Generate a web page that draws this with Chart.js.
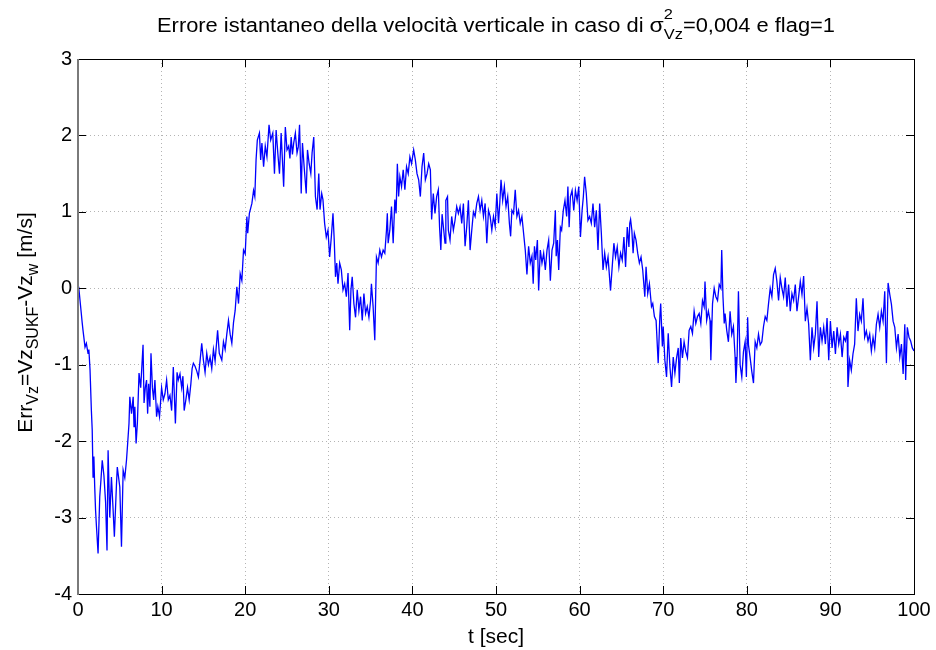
<!DOCTYPE html>
<html>
<head>
<meta charset="utf-8">
<title>Errore istantaneo Vz</title>
<script src="https://cdn.jsdelivr.net/npm/chart.js@4.4.0/dist/chart.umd.min.js"></script>
<style>
  html, body { margin: 0; padding: 0; background: #fff; }
  #wrap { width: 936px; height: 650px; }
</style>
</head>
<body>
<div id="wrap"><canvas id="chart" width="936" height="650"></canvas></div>
<script>
// ── Data ───────────────────────────────────────────────────
// time [s]
const tSec = [
  0, 0.1, 0.36, 0.5, 0.6, 0.84, 1.0, 1.2, 1.3, 1.44,
  1.6, 1.7, 1.8, 1.9, 2.0, 2.1, 2.2, 2.4, 2.6, 2.75,
  2.9, 3.1, 3.3, 3.47, 3.6, 3.8, 4.0, 4.2, 4.35, 4.6,
  4.7, 5.0, 5.2, 5.4, 5.6, 5.8, 5.94, 6.1, 6.2, 6.4,
  6.6, 6.7, 6.8, 6.95, 7.1, 7.3, 7.5, 7.78, 7.9, 8.05,
  8.2, 8.33, 8.45, 8.6, 8.73, 8.9, 9.05, 9.2, 9.4, 9.55,
  9.75, 10.0, 10.2, 10.4, 10.6, 10.8, 11.0, 11.2, 11.4, 11.65,
  11.85, 12.0, 12.2, 12.4, 12.55, 12.7, 12.9, 13.1, 13.3, 13.5,
  13.65, 13.8, 14.0, 14.2, 14.4,
  // 14.6 .. 28.8
  14.6, 14.8, 15.0, 15.2, 15.4, 15.6, 15.8, 16.0, 16.2, 16.4,
  16.7, 16.9, 17.2, 17.4, 17.6, 17.8, 18.0, 18.2, 18.4, 18.6,
  18.8, 19.0, 19.2, 19.4, 19.6, 19.8, 20.0, 20.2, 20.3, 20.5,
  20.8, 21.0, 21.15, 21.3, 21.45, 21.7, 21.85, 22.0, 22.2, 22.4,
  22.6, 22.85, 23.05, 23.3, 23.5, 23.7, 23.9, 24.1, 24.3, 24.45,
  24.6, 24.8, 25.0, 25.2, 25.35, 25.5, 25.65, 25.8, 26.0, 26.2,
  26.35, 26.5, 26.7, 26.85, 27.05, 27.3, 27.45, 27.65, 27.85, 28.0,
  28.2, 28.4, 28.6, 28.8,
  // 28.95 .. 42.5
  28.95, 29.15, 29.3, 29.5, 29.7, 29.9, 30.1, 30.3, 30.5, 30.65,
  30.8, 30.95, 31.1, 31.3, 31.5, 31.7, 31.9, 32.1, 32.3, 32.5,
  32.65, 32.8, 33.0, 33.2, 33.4, 33.6, 33.8, 34.0, 34.2, 34.4,
  34.6, 34.8, 35.0, 35.1, 35.3, 35.5, 35.7, 35.9, 36.1, 36.3,
  36.5, 36.7, 36.9, 37.0, 37.1, 37.3, 37.5, 37.7, 37.9, 38.05,
  38.2, 38.35, 38.5, 38.7, 38.9, 39.1, 39.3, 39.5, 39.7, 39.9,
  40.15, 40.35, 40.55, 40.75, 40.95, 41.15, 41.35, 41.55, 41.75, 41.95,
  42.15, 42.3, 42.5,
  // 42.7 .. 57.2
  42.7, 42.9, 43.1, 43.25, 43.4, 43.55, 43.75, 43.9, 44.0, 44.2,
  44.3, 44.5, 44.7, 44.9, 45.1, 45.3, 45.5, 45.7, 45.9, 46.1,
  46.3, 46.5, 46.7, 46.9, 47.1, 47.3, 47.5, 47.7, 47.9, 48.1,
  48.3, 48.5, 48.7, 48.9, 49.1, 49.3, 49.5, 49.7, 49.9, 50.1,
  50.3, 50.45, 50.6, 50.8, 51.0, 51.2, 51.4, 51.6, 51.75, 51.9,
  52.1, 52.3, 52.5, 52.7, 52.9, 53.1, 53.3, 53.5, 53.7, 53.9,
  54.1, 54.3, 54.45, 54.6, 54.75, 54.95, 55.1, 55.3, 55.5, 55.7,
  55.9, 56.1, 56.3, 56.5, 56.7, 56.9, 57.1, 57.2,
  // 57.35 .. 71.4
  57.35, 57.5, 57.7, 57.85, 58.05, 58.25, 58.45, 58.6, 58.75, 58.9,
  59.1, 59.3, 59.5, 59.7, 59.9, 60.1, 60.3, 60.45, 60.6, 60.8,
  61.0, 61.2, 61.4, 61.6, 61.8, 62.0, 62.2, 62.4, 62.6, 62.8,
  63.0, 63.2, 63.4, 63.7, 63.9, 64.1, 64.3, 64.5, 64.7, 64.9,
  65.1, 65.3, 65.5, 65.7, 65.9, 66.0, 66.1, 66.25, 66.4, 66.55,
  66.75, 66.95, 67.15, 67.35, 67.55, 67.8, 67.95, 68.15, 68.35, 68.6,
  68.75, 68.95, 69.15, 69.4, 69.6, 69.7, 69.9, 70.0, 70.2, 70.4,
  70.6, 70.8, 71.0, 71.2, 71.4,
  // 71.6 .. 86.2
  71.6, 71.8, 71.93, 72.1, 72.3, 72.5, 72.7, 72.9, 73.1, 73.3,
  73.5, 73.7, 73.9, 74.1, 74.3, 74.5, 74.7, 74.9, 75.0, 75.2,
  75.4, 75.6, 75.7, 75.9, 76.1, 76.3, 76.5, 76.7, 76.9, 77.0,
  77.15, 77.3, 77.4, 77.6, 77.8, 78.0, 78.2, 78.4, 78.6, 78.7,
  78.85, 79.0, 79.2, 79.4, 79.6, 79.8, 79.95, 80.1, 80.2, 80.4,
  80.6, 80.8, 81.0, 81.2, 81.4, 81.6, 81.8, 82.0, 82.2, 82.4,
  82.6, 82.8, 83.0, 83.2, 83.4, 83.6, 83.8, 84.0, 84.2, 84.4,
  84.6, 84.8, 85.0, 85.2, 85.4, 85.6, 85.8, 86.0, 86.2,
  // 86.4 .. 100
  86.4, 86.6, 86.8, 87.0, 87.2, 87.4, 87.6, 87.8, 88.0, 88.2,
  88.4, 88.6, 88.8, 89.0, 89.2, 89.4, 89.6, 89.8, 90.0, 90.2,
  90.4, 90.6, 90.8, 91.0, 91.2, 91.4, 91.6, 91.8, 92.0, 92.1,
  92.3, 92.5, 92.7, 92.9, 93.1, 93.3, 93.5, 93.7, 93.9, 94.1,
  94.3, 94.5, 94.7, 94.9, 95.1, 95.3, 95.5, 95.7, 95.9, 96.1,
  96.3, 96.5, 96.7, 96.9, 97.1, 97.3, 97.5, 97.7, 97.9, 98.1,
  98.3, 98.5, 98.7, 98.9, 99.0, 99.2, 99.4, 99.6, 99.8, 100,
];

// Err_Vz = Vz_SUKF - Vz_w [m/s]
const errVz = [
  0.02, 0.0, -0.29, -0.45, -0.55, -0.77, -0.72, -0.85, -0.8, -1.07,
  -1.6, -1.85, -2.47, -2.2, -2.6, -2.9, -3.1, -3.47, -2.73, -2.5,
  -2.25, -2.45, -2.8, -3.43, -2.12, -3.0, -2.47, -2.9, -3.25, -2.57,
  -2.34, -2.6, -3.38, -2.38, -2.48, -2.25, -2.03, -1.77, -1.42, -1.64,
  -1.42, -1.81, -1.55, -2.03, -1.77, -1.11, -1.3, -0.74, -1.5, -1.3,
  -1.2, -1.64, -1.25, -1.55, -0.85, -1.3, -1.46, -1.2, -1.68, -1.55,
  -1.68, -1.3, -1.46, -1.38, -1.2, -1.46, -1.4, -1.6, -1.03, -1.77,
  -1.1, -1.2, -1.12, -1.3, -1.15, -1.6, -1.46, -1.3, -1.46, -1.25,
  -1.05, -0.98, -1.02, -1.08, -1.16,
  // 14.6 .. 28.8
  -0.95, -0.72, -0.94, -1.1, -0.85, -1.0, -0.9, -1.05, -0.8, -0.95,
  -0.55, -0.85, -0.94, -0.7, -0.8, -0.6, -0.42, -0.6, -0.72, -0.45,
  -0.29, 0.02, -0.2, 0.19, 0.1, 0.5, 0.45, 0.94, 0.72, 0.98,
  1.11, 1.28, 1.2, 1.68, 1.94, 2.03, 1.68, 1.9, 1.59, 1.86,
  1.72, 2.14, 1.94, 2.03, 1.5, 2.07, 1.77, 1.5, 2.03, 1.68,
  1.33, 2.11, 1.81, 1.86, 1.7, 1.98, 1.75, 1.9, 2.03, 1.77,
  1.85, 2.14, 1.24, 1.9, 1.59, 1.24, 1.81, 1.63, 1.5, 1.77,
  1.98, 1.2, 1.03, 1.5,
  // 28.95 .. 42.5
  1.03, 1.24, 1.16, 0.85, 0.67, 0.76, 0.41, 0.67, 0.98, 0.63,
  0.15, 0.33, 0.06, 0.33, 0.24, -0.02, 0.06, -0.11, 0.2, -0.55,
  -0.02, 0.15, -0.2, -0.38, -0.02, -0.29, -0.11, -0.42, -0.07, -0.33,
  -0.24, -0.38, -0.16, 0.06, -0.24, -0.68, 0.41, 0.33, 0.5, 0.41,
  0.5, 0.46, 0.76, 0.98, 0.59, 0.76, 1.07, 0.59, 1.16, 0.98,
  1.63, 1.2, 1.46, 1.33, 1.55, 1.29, 1.59, 1.5, 1.72, 1.63,
  1.81, 1.68, 1.5, 1.42, 1.2, 1.59, 1.77, 1.42, 1.5, 1.63,
  1.55, 0.9, 1.24,
  // 42.7 .. 57.2
  0.98, 1.2, 1.29, 0.8, 0.5, 0.97, 0.76, 0.59, 1.15, 1.2,
  0.76, 0.63, 0.94, 0.76, 0.89, 1.07, 0.98, 1.07, 0.85, 1.11,
  0.55, 0.81, 1.15, 0.5, 0.76, 1.0, 0.94, 1.11, 1.2, 1.02,
  1.15, 0.94, 1.11, 0.59, 1.02, 0.94, 0.76, 0.94, 0.81, 1.24,
  0.85, 1.11, 1.42, 1.15, 1.33, 1.07, 1.2, 0.85, 0.68, 1.02,
  0.98, 1.29, 0.94, 1.02, 0.85, 0.94, 0.72, 0.5, 0.18, 0.55,
  0.33, 0.42, 0.06, 0.55, 0.37, 0.63, -0.03, 0.5, 0.33, 0.46,
  0.24, 0.5, 0.63, 0.1, 0.5, 0.59, 1.02, 0.42,
  // 57.35 .. 71.4
  0.63, 0.24, 0.8, 0.76, 1.02, 1.15, 0.94, 1.33, 0.8, 1.2,
  1.28, 1.02, 1.28, 1.15, 1.33, 0.67, 1.02, 1.2, 1.46, 1.24,
  0.89, 0.94, 0.85, 1.11, 0.8, 1.02, 0.5, 1.11, 0.72, 0.24,
  0.46, 0.28, 0.41, -0.03, 0.28, 0.59, 0.41, 0.54, 0.28, 0.46,
  0.37, 0.67, 0.28, 0.8, 0.54, 0.85, 0.9, 0.76, 0.46, 0.72,
  0.63, 0.46, 0.33, 0.41, 0.24, -0.11, 0.28, -0.07, 0.06, -0.24,
  -0.2, -0.37, -0.42, -0.98, -0.37, -0.2, -0.76, -0.5, -0.94, -1.16,
  -0.59, -1.02, -1.29, -0.9, -1.11,
  // 71.6 .. 86.2
  -0.91, -0.78, -1.24, -0.65, -0.91, -0.7, -0.83, -0.91, -0.55, -0.5,
  -0.59, -0.3, -0.46, -0.37, -0.33, -0.46, -0.16, -0.24, 0.09, -0.42,
  -0.3, -0.42, -0.94, -0.2, 0.0, -0.11, -0.16, 0.05, 0.0, 0.5,
  -0.11, -0.46, -0.33, -0.55, -0.7, -0.3, -0.6, -0.5, -0.9, -1.24,
  -0.87, -0.04, -1.0, -1.16, -0.83, -0.7, -1.16, -0.38, -0.74, -0.91,
  -1.09, -1.24, -0.7, -0.78, -0.6, -0.74, -0.7, -0.5, -0.37, -0.42,
  -0.2, 0.0, -0.11, 0.18, 0.26, 0.09, -0.16, 0.14, 0.0, -0.11,
  0.14, -0.24, 0.05, -0.3, -0.07, -0.16, 0.05, -0.3, -0.11,
  // 86.4 .. 100
  0.09, -0.08, 0.16, -0.43, -0.26, -0.47, -0.94, -0.51, -0.78, -0.6,
  -0.17, -0.9, -0.51, -0.69, -0.51, -0.73, -0.39, -0.94, -0.43, -0.78,
  -0.56, -0.86, -0.51, -0.73, -0.6, -0.9, -0.64, -0.69, -0.56, -1.29,
  -0.94, -1.07, -0.86, -0.73, -0.13, -0.56, -0.34, -0.43, -0.13, -0.64,
  -0.56, -0.69, -0.6, -0.82, -0.64, -0.78, -0.47, -0.34, -0.51, -0.3,
  -0.43, -0.04, -0.98, 0.07, -0.08, -0.21, -0.43, -0.51, -0.78, -0.6,
  -0.9, -0.73, -1.12, -0.47, -1.2, -0.51, -0.64, -0.69, -0.78, -0.82,
];

// axis limits / ticks
const xTicks = [0, 10, 20, 30, 40, 50, 60, 70, 80, 90, 100];
const yTicks = [-4, -3, -2, -1, 0, 1, 2, 3];

const FONT = "'Liberation Sans', Arial, Helvetica, sans-serif";
const TICK_LEN = 8;

// ── Rich text (sub/superscripts) ───────────────────────────
// parts: { text, size, dy, stack } — a part with stack:true does not advance x
function richWidth(ctx, parts) {
  let w = 0, pending = 0;
  parts.forEach(p => {
    ctx.font = `${p.size}px ${FONT}`;
    const pw = ctx.measureText(p.text).width;
    if (p.stack) { pending = Math.max(pending, pw); return; }
    w += Math.max(pw, pending);
    pending = 0;
  });
  return w + pending;
}

// centred on x; fitWidth (optional) stretches the run horizontally
function drawRich(ctx, parts, x, y, fitWidth) {
  const total = richWidth(ctx, parts);
  const sx = fitWidth ? fitWidth / total : 1;
  ctx.save();
  ctx.translate(x, y);
  ctx.scale(sx, 1);
  let cx = -total / 2, pending = 0;
  ctx.textAlign = 'left';
  ctx.textBaseline = 'alphabetic';
  parts.forEach(p => {
    ctx.font = `${p.size}px ${FONT}`;
    ctx.fillText(p.text, cx, p.dy || 0);
    const pw = ctx.measureText(p.text).width;
    if (p.stack) { pending = Math.max(pending, pw); return; }
    cx += Math.max(pw, pending);
    pending = 0;
  });
  ctx.restore();
}

const titleParts = [
  { text: 'Errore istantaneo della velocità verticale in caso di ', size: 20 },
  { text: 'σ', size: 21 },
  { text: '2', size: 15, dy: -13, stack: true },
  { text: 'Vz', size: 15, dy: 7 },
  { text: '=0,004 e flag=1', size: 20 },
];

const yLabelParts = [
  { text: 'Err', size: 21 },
  { text: 'Vz', size: 16, dy: 6 },
  { text: '=Vz', size: 21 },
  { text: 'SUKF', size: 16, dy: 6 },
  { text: '-Vz', size: 21 },
  { text: 'w', size: 16, dy: 6 },
  { text: ' [m/s]', size: 21 },
];

// ── Plugin: box, inward ticks, titles ──────────────────────
const matlabFrame = {
  id: 'matlabFrame',
  afterDraw(chart) {
    const { ctx, chartArea: a, scales } = chart;
    ctx.save();

    // inward tick marks on all four sides
    ctx.strokeStyle = '#000';
    ctx.lineWidth = 1;
    ctx.beginPath();
    xTicks.forEach(v => {
      const px = Math.round(scales.x.getPixelForValue(v)) + 0.5;
      ctx.moveTo(px, a.bottom); ctx.lineTo(px, a.bottom - TICK_LEN);
      ctx.moveTo(px, a.top); ctx.lineTo(px, a.top + TICK_LEN);
    });
    yTicks.forEach(v => {
      const py = Math.round(scales.y.getPixelForValue(v)) + 0.5;
      ctx.moveTo(a.left, py); ctx.lineTo(a.left + TICK_LEN, py);
      ctx.moveTo(a.right, py); ctx.lineTo(a.right - TICK_LEN, py);
    });
    ctx.stroke();

    // box
    ctx.strokeRect(a.left + 0.5, a.top + 0.5, a.right - a.left, a.bottom - a.top);
    ctx.strokeStyle = '#7a7a7a';
    ctx.lineWidth = 2;
    ctx.beginPath();
    ctx.moveTo(a.left, a.top); ctx.lineTo(a.left, a.bottom + 1);
    ctx.stroke();

    ctx.fillStyle = '#000';
    const midX = (a.left + a.right) / 2;

    // title
    drawRich(ctx, titleParts, midX, 32, 678);

    // x label
    ctx.font = `21px ${FONT}`;
    ctx.textAlign = 'center';
    ctx.textBaseline = 'alphabetic';
    ctx.fillText('t [sec]', midX, 643);

    // y label, rotated
    ctx.translate(32, (a.top + a.bottom) / 2 - 4);
    ctx.rotate(-Math.PI / 2);
    drawRich(ctx, yLabelParts, 0, 0);

    ctx.restore();
  },
};

// ── Chart ──────────────────────────────────────────────────
const points = tSec.slice(0, Math.min(tSec.length, errVz.length))
  .map((t, i) => ({ x: t, y: errVz[i] }));

new Chart(document.getElementById('chart'), {
  type: 'line',
  data: {
    datasets: [{
      data: points,
      borderColor: '#0000ff',
      borderWidth: 1.3,
      pointRadius: 0,
      tension: 0,
      fill: false,
    }],
  },
  options: {
    responsive: false,
    animation: false,
    devicePixelRatio: 1,
    layout: { padding: { top: 59, right: 22, left: 0, bottom: 0 } },
    plugins: { legend: { display: false }, tooltip: { enabled: false } },
    scales: {
      x: {
        type: 'linear',
        min: 0, max: 100,
        afterFit: s => { s.height = 56; },
        afterBuildTicks: s => { s.ticks = xTicks.map(v => ({ value: v })); },
        ticks: {
          color: '#000',
          padding: 4,
          maxRotation: 0,
          font: { family: FONT, size: 20 },
        },
        grid: { color: '#b4b4b4', lineWidth: 1, drawTicks: false },
        border: { display: false, dash: [1, 3] },
      },
      y: {
        type: 'linear',
        min: -4, max: 3,
        afterFit: s => { s.width = 78; },
        afterBuildTicks: s => { s.ticks = yTicks.map(v => ({ value: v })); },
        ticks: {
          color: '#000',
          padding: 6,
          font: { family: FONT, size: 20 },
        },
        grid: { color: '#b4b4b4', lineWidth: 1, drawTicks: false },
        border: { display: false, dash: [1, 3] },
      },
    },
  },
  plugins: [matlabFrame],
});
</script>
</body>
</html>
